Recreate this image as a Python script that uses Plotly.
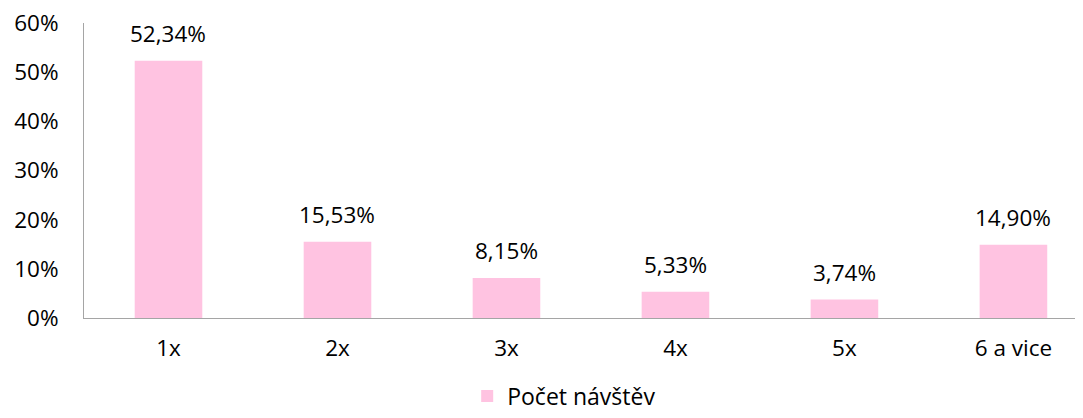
import plotly.graph_objects as go

categories = ['1x', '2x', '3x', '4x', '5x', '6 a vice']
values = [0.5234, 0.1553, 0.0815, 0.0533, 0.0374, 0.1490]
labels = ['52,34%', '15,53%', '8,15%', '5,33%', '3,74%', '14,90%']
y_ticks = [0, 0.1, 0.2, 0.3, 0.4, 0.5, 0.6]
y_tick_labels = ['0%', '10%', '20%', '30%', '40%', '50%', '60%']

pink = '#FFC3E1'
axis_grey = '#A5A5A5'
font_family = 'Open Sans'

fig = go.Figure()
fig.add_trace(go.Bar(x=categories, y=values, name='Počet návštěv',
                     marker=dict(color=pink, line=dict(width=0)),
                     width=0.4, showlegend=True))

for cat, val, lab in zip(categories, values, labels):
    fig.add_annotation(x=cat, y=val, text=lab, showarrow=False,
                       yanchor='middle', yshift=27,
                       font=dict(family=font_family, size=22.5, color='#000000'))

# page body adds an 8px offset, so margins are trimmed to compensate
fig.update_layout(
    width=1083, height=418,
    margin=dict(l=76, r=0, t=15, b=108),
    paper_bgcolor='white', plot_bgcolor='white',
    font=dict(family=font_family, size=22.5, color='#000000'),
    showlegend=True,
    legend=dict(orientation='h', xref='container', yref='container',
                x=0.424, xanchor='left', y=0.02, yanchor='bottom',
                font=dict(family=font_family, size=23, color='#000000'),
                itemwidth=30),
)
# right end of the category axis runs past the window edge, as in the reference
fig.update_xaxes(range=[-0.5, 5.459], showline=True, linecolor=axis_grey,
                 linewidth=1, showgrid=False, ticks='', ticklabelstandoff=10,
                 zeroline=False)
fig.update_yaxes(range=[0, 0.6], tickvals=y_ticks, ticktext=y_tick_labels,
                 showline=True, linecolor=axis_grey, linewidth=1,
                 showgrid=False, zeroline=False, ticks='',
                 ticklabelstandoff=20, ticklabeloverflow='allow')

fig.write_html("out.html")
